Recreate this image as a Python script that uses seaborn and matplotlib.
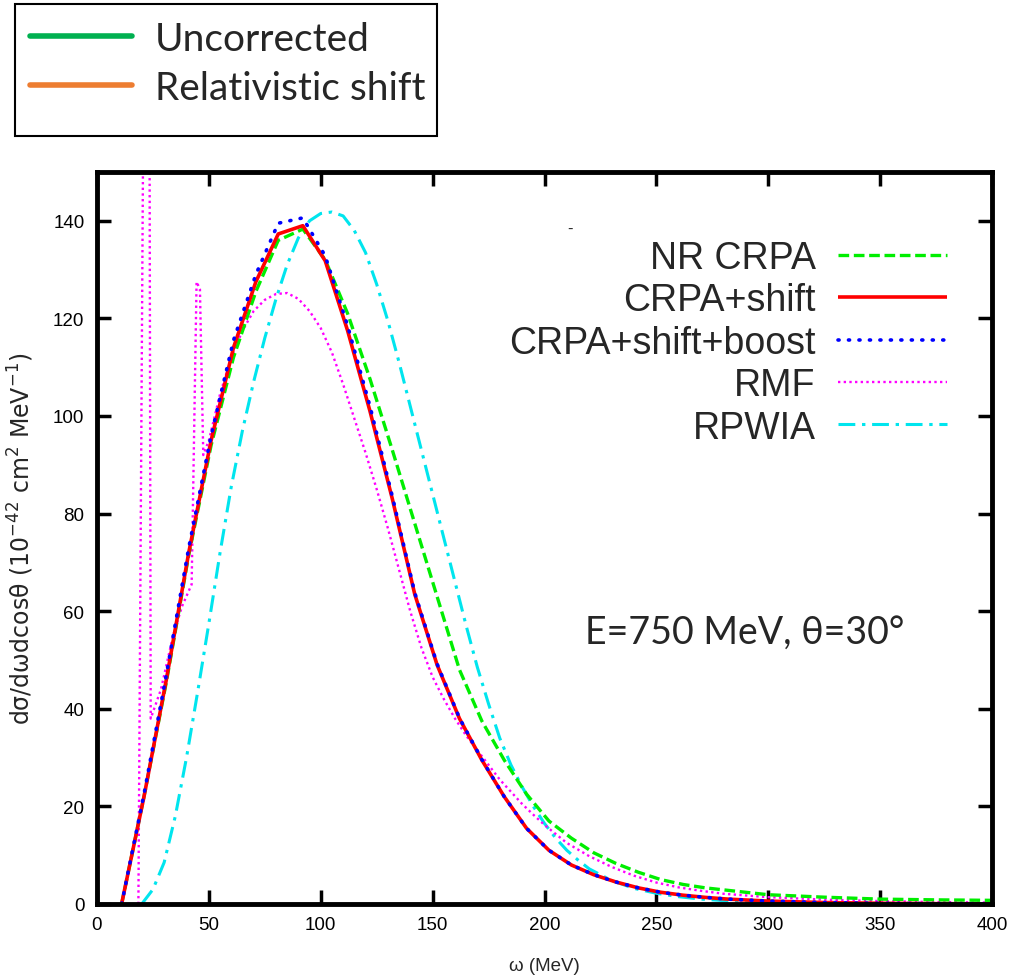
import numpy as np
import pandas as pd
import matplotlib
matplotlib.use("Agg")
import matplotlib.pyplot as plt
import seaborn as sns
from matplotlib.lines import Line2D
from matplotlib.patches import Rectangle

# ---------------- data ----------------
omega_crpa = [11, 21, 31, 41, 51, 61, 71, 81, 92, 102, 112, 122, 132, 142, 152, 162,
              172, 182, 192, 202, 212, 222, 232, 242, 252, 262, 272, 282, 300, 325,
              350, 375, 400]
nr_crpa = [0, 22, 45.5, 71.5, 94, 112, 125.5, 136, 138.3, 132, 121, 107.6, 93, 78, 63,
           48, 37.5, 29.5, 22.5, 17, 13.5, 10.5, 8.3, 6.5, 5.0, 4.0, 3.3, 2.8, 1.9, 1.4,
           1.0, 0.85, 0.75]
crpa_shift = [0, 22, 46, 72, 95, 114, 127.5, 137.3, 139, 131.8, 117.5, 101, 83, 63.5,
              49, 38, 29.5, 22, 15.5, 11, 8, 6, 4.5, 3.3, 2.4, 1.8, 1.35, 1.0, 0.6, 0.3,
              0.15, 0.07, 0.03]
crpa_shift_boost = [0, 22.5, 47, 73, 96, 115.5, 129, 139.5, 140.6, 132.8, 118.5, 102, 83.5,
                    63.8, 49.2, 38.1, 29.6, 22, 15.5, 11, 8, 6, 4.5, 3.3, 2.4, 1.8, 1.35,
                    1.0, 0.6, 0.3, 0.15, 0.07, 0.03]

omega_rmf = [18.5, 20.6, 23.5, 24, 28.6, 34, 38, 42.3, 44.5, 46, 47.5, 50, 55, 60, 65, 70,
             75, 80, 85, 90, 95, 100, 105, 110, 115, 120, 125, 130, 135, 140, 145, 150,
             155, 160, 165, 170, 175, 180, 185, 190, 195, 200, 210, 220, 230, 240, 250,
             260, 270, 280, 300, 325, 350, 375, 400]
rmf = [0, 155, 155, 38, 44, 55, 61, 65.5, 127.5, 126, 92, 95, 104.5, 112, 117.5, 121.5,
       123.8, 125, 125.2, 124, 121.5, 118, 113, 106.5, 99.5, 92.5, 85, 77, 68.5, 60, 52.5,
       46.5, 42, 38, 34.5, 31.5, 28.5, 25.5, 23, 20.5, 18.3, 16.2, 12.5, 9.8, 7.6, 5.8,
       4.4, 3.4, 2.7, 2.1, 1.4, 0.9, 0.6, 0.4, 0.3]

omega_rpwia = [20, 25, 30, 35, 40, 45, 50, 55, 60, 65, 70, 75, 80, 85, 90, 95, 100, 105,
               110, 115, 120, 125, 130, 135, 140, 145, 150, 155, 160, 165, 170, 175, 180,
               185, 190, 195, 200, 205, 210, 215, 220, 230, 240, 250, 260, 270, 280, 300,
               325, 350, 375, 400]
rpwia = [0, 3, 8.5, 18, 30, 43.5, 57.5, 72, 85.5, 97, 107, 116, 124, 131, 136.5, 140,
         141.5, 141.8, 141, 138, 133.5, 127, 119.5, 111, 102, 93, 84, 75, 66, 57, 48.5,
         41, 34, 28.5, 24, 20, 16.5, 13.5, 11, 9, 7.2, 4.8, 3.2, 2.2, 1.5, 1.0, 0.7, 0.35,
         0.15, 0.05, 0.02, 0.0]

series_labels = ["NR CRPA", "CRPA+shift", "CRPA+shift+boost", "RMF", "RPWIA"]
x_ticks = [0, 50, 100, 150, 200, 250, 300, 350, 400]
y_ticks = [0, 20, 40, 60, 80, 100, 120, 140]
box_labels = ["Uncorrected", "Relativistic shift"]

# ---------------- figure ----------------
sns.set_style("ticks")
plt.rcParams["font.family"] = ["Liberation Sans", "DejaVu Sans"]
plt.rcParams["mathtext.default"] = "regular"

fig = plt.figure(figsize=(10.15, 9.78), dpi=100)
ax = fig.add_axes([97 / 1015, 1 - 905 / 978, 895 / 1015, 732 / 978])

styles = [
    dict(x=omega_crpa, y=nr_crpa, color="#00ee00", lw=2.4, ls=(0, (3.2, 1.4)), cap="butt"),
    dict(x=omega_crpa, y=crpa_shift, color="#ff0000", lw=2.6, ls="-", cap="butt"),
    dict(x=omega_crpa, y=crpa_shift_boost, color="#0000ff", lw=2.6, ls=(0, (0.3, 2.6)), cap="round"),
    dict(x=omega_rmf, y=rmf, color="#ff00ff", lw=1.7, ls=(0, (1.0, 1.4)), cap="butt"),
    dict(x=omega_rpwia, y=rpwia, color="#00e5ee", lw=2.2, ls=(0, (5.5, 2.2, 1.1, 2.2)), cap="butt"),
]
order = [4, 3, 0, 1, 2]
handles = {}
for i in order:
    s = styles[i]
    sns.lineplot(x=s["x"], y=s["y"], ax=ax, color=s["color"], lw=s["lw"],
                 sort=False, estimator=None, label=series_labels[i])
    line = ax.get_lines()[-1]
    line.set_linestyle(s["ls"])
    line.set_dash_capstyle(s["cap"])
    line.set_solid_capstyle("butt")
    handles[i] = line

ax.set_xlim(0, 400)
ax.set_ylim(0, 150)
ax.set_xticks(x_ticks)
ax.set_yticks(y_ticks)
ax.tick_params(direction="in", length=10, width=2.5, top=True, right=True,
               labelsize=13.5, pad=9, colors="black")
for sp in ax.spines.values():
    sp.set_linewidth(3.5)
    sp.set_color("black")
    sp.set_visible(True)

ax.set_xlabel("\u03c9 (MeV)", fontsize=13.5)
ax.xaxis.set_label_coords(0.5, -0.072)
ax.set_ylabel("d\u03c3/d\u03c9dcos\u03b8 (10$^{-42}$ cm$^{2}$ MeV$^{-1}$)", fontsize=17,
              family=["DejaVu Sans"])
ax.yaxis.set_label_coords(-0.068, 0.5)

leg = ax.legend([handles[i] for i in range(5)], series_labels, loc="upper right",
                bbox_to_anchor=(0.9497, 0.907), frameon=False, markerfirst=False,
                fontsize=27, handlelength=2.9, handletextpad=0.6, labelspacing=0.17,
                borderpad=0, borderaxespad=0)

ax.text(0.528, 0.9235, "-", transform=ax.transAxes, fontsize=12, ha="center", va="center")
ax.text(0.545, 0.372, "E=750 MeV, \u03b8=30\u00b0", transform=ax.transAxes,
        fontsize=27, ha="left", va="center", family=["Lato", "DejaVu Sans"])

# ---------------- top box legend ----------------
fig.patches.append(Rectangle((15 / 1015, 1 - 137 / 978), 422 / 1015, 132 / 978,
                             transform=fig.transFigure, fill=False, edgecolor="black",
                             lw=1.5, figure=fig))
box_handles = [Line2D([], [], color="#00b050", lw=4), Line2D([], [], color="#ed7d31", lw=4)]
fig.legend(box_handles, box_labels, loc="upper left",
           bbox_to_anchor=(30 / 1015, 1 - 22 / 978), frameon=False,
           prop={"family": ["Lato", "DejaVu Sans"], "size": 28},
           handlelength=2.62, handletextpad=0.59, labelspacing=0.33,
           borderpad=0, borderaxespad=0)

fig.savefig("out.png", dpi=100)
